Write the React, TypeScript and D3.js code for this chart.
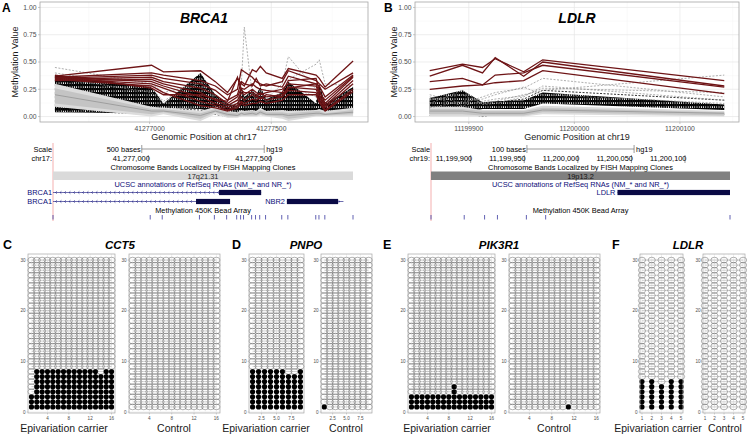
import React from "react";
import * as d3 from "d3";

const FONT = "'Liberation Sans', Arial, Helvetica, sans-serif";

// ---------------- Panel A: BRCA1 ----------------
const brcaPositions = [41276611, 41277008, 41277057, 41277209, 41277270, 41277320, 41277361, 41277377, 41277389, 41277422, 41277438, 41277455, 41277479, 41277545, 41277570, 41277684, 41277697, 41277721, 41277836];
const brcaCarriers = [
  [0.37, 0.47, 0.41, 0.42, 0.32, 0.22, 0.35, 0.30, 0.28, 0.43, 0.41, 0.46, 0.40, 0.35, 0.44, 0.38, 0.35, 0.27, 0.51],
  [0.36, 0.40, 0.38, 0.33, 0.28, 0.20, 0.25, 0.43, 0.41, 0.36, 0.32, 0.30, 0.28, 0.32, 0.42, 0.33, 0.30, 0.25, 0.40],
  [0.35, 0.38, 0.35, 0.30, 0.24, 0.15, 0.20, 0.32, 0.30, 0.28, 0.35, 0.28, 0.30, 0.27, 0.37, 0.30, 0.28, 0.18, 0.38],
  [0.34, 0.36, 0.32, 0.26, 0.20, 0.12, 0.18, 0.26, 0.25, 0.30, 0.27, 0.25, 0.24, 0.22, 0.33, 0.35, 0.24, 0.12, 0.36],
  [0.33, 0.34, 0.30, 0.22, 0.15, 0.10, 0.15, 0.22, 0.20, 0.25, 0.22, 0.20, 0.22, 0.25, 0.30, 0.28, 0.20, 0.10, 0.33],
  [0.36, 0.32, 0.28, 0.18, 0.12, 0.08, 0.12, 0.18, 0.15, 0.20, 0.18, 0.22, 0.18, 0.20, 0.27, 0.25, 0.18, 0.08, 0.30],
  [0.35, 0.30, 0.26, 0.14, 0.10, 0.06, 0.10, 0.14, 0.12, 0.16, 0.15, 0.18, 0.15, 0.18, 0.24, 0.22, 0.15, 0.06, 0.25],
  [0.34, 0.28, 0.22, 0.10, 0.08, 0.05, 0.08, 0.12, 0.10, 0.12, 0.12, 0.14, 0.12, 0.15, 0.20, 0.20, 0.13, 0.05, 0.23],
  [0.38, 0.26, 0.20, 0.20, 0.16, 0.14, 0.36, 0.24, 0.22, 0.22, 0.20, 0.16, 0.20, 0.18, 0.26, 0.30, 0.22, 0.15, 0.37],
];
const brcaBlackHi = [0.38, 0.27, 0.12, 0.40, 0.20, 0.12, 0.10, 0.28, 0.18, 0.24, 0.20, 0.27, 0.16, 0.22, 0.32, 0.12, 0.30, 0.12, 0.27];
const brcaBlackLo = [0.04, 0.03, 0.08, 0.07, 0.04, 0.02, 0.02, 0.03, 0.04, 0.03, 0.03, 0.04, 0.03, 0.03, 0.05, 0.04, 0.03, 0.04, 0.05];
const brcaOuterLo = [0.09, 0.00, 0.02, -0.04, 0.02, -0.01, -0.01, 0.00, 0.00, 0.00, 0.00, 0.01, 0.00, -0.02, -0.04, 0.00, 0.00, 0.00, 0.00];
const brcaOuterHi = [0.30, 0.09, 0.08, 0.05, 0.09, 0.05, 0.04, 0.06, 0.05, 0.06, 0.05, 0.08, 0.05, 0.06, 0.05, 0.06, 0.07, 0.05, 0.08];
const brcaInnerLo = [0.12, 0.02, 0.04, -0.02, 0.04, 0.00, 0.00, 0.01, 0.01, 0.01, 0.01, 0.02, 0.01, 0.00, -0.02, 0.01, 0.01, 0.01, 0.02];
const brcaInnerHi = [0.26, 0.07, 0.07, 0.03, 0.07, 0.04, 0.03, 0.04, 0.04, 0.05, 0.04, 0.06, 0.04, 0.04, 0.03, 0.05, 0.05, 0.03, 0.06];
const brcaMedian = [0.20, 0.05, 0.05, 0.01, 0.05, 0.02, 0.01, 0.03, 0.02, 0.03, 0.02, 0.04, 0.02, 0.02, 0.01, 0.03, 0.03, 0.02, 0.04];
const brcaGreyOutliers = [
  [0.45, 0.30, 0.22, 0.30, 0.15, 0.10, 0.12, 0.30, 0.82, 0.20, 0.16, 0.18, 0.14, 0.18, 0.28, 0.18, 0.16, 0.10, 0.22],
  [0.40, 0.26, 0.14, 0.36, 0.18, 0.10, 0.10, 0.22, 0.16, 0.22, 0.18, 0.24, 0.16, 0.30, 0.55, 0.25, 0.20, 0.12, 0.25],
  [0.36, 0.22, 0.12, 0.32, 0.16, 0.08, 0.08, 0.18, 0.14, 0.20, 0.16, 0.22, 0.14, 0.22, 0.34, 0.48, 0.52, 0.30, 0.28],
];
const brcaBlackDashed = [
  [0.06, 0.02, 0.07, 0.06, 0.02, 0.00, 0.00, 0.01, 0.02, 0.01, 0.01, 0.02, 0.01, 0.01, 0.04, 0.02, 0.01, 0.03, 0.04],
  [0.33, 0.22, 0.11, 0.38, 0.18, 0.11, 0.09, 0.26, 0.17, 0.23, 0.19, 0.26, 0.15, 0.21, 0.30, 0.11, 0.28, 0.11, 0.26],
];
const brcaXTicks = [41277000, 41277500];
const brcaXMinor = [41276750, 41277250, 41277750];

// ---------------- Panel B: LDLR ----------------
const ldlrPositions = [11199863, 11199894, 11199913, 11199925, 11199952, 11199970, 11200142];
const ldlrCarriers = [
  [0.42, 0.48, 0.45, 0.53, 0.41, 0.52, 0.33],
  [0.37, 0.47, 0.40, 0.54, 0.37, 0.50, 0.28],
  [0.32, 0.35, 0.29, 0.38, 0.40, 0.47, 0.27],
  [0.25, 0.28, 0.29, 0.31, 0.33, 0.42, 0.21],
];
const ldlrBlackHi = [0.17, 0.24, 0.13, 0.14, 0.15, 0.22, 0.11];
const ldlrBlackLo = [0.02, 0.03, 0.07, 0.07, 0.07, 0.12, 0.06];
const ldlrOuterLo = [0.00, 0.00, 0.00, 0.00, 0.00, 0.02, 0.00];
const ldlrOuterHi = [0.09, 0.09, 0.06, 0.06, 0.06, 0.10, 0.05];
const ldlrInnerLo = [0.02, 0.02, 0.01, 0.01, 0.01, 0.04, 0.01];
const ldlrInnerHi = [0.07, 0.07, 0.05, 0.05, 0.05, 0.08, 0.04];
const ldlrMedian = [0.05, 0.05, 0.03, 0.03, 0.03, 0.06, 0.03];
const ldlrGreyOutliers = [
  [0.20, 0.12, 0.18, 0.22, 0.26, 0.35, 0.18],
  [0.15, 0.20, 0.12, 0.14, 0.20, 0.24, 0.38],
  [0.12, 0.24, 0.11, 0.12, 0.18, 0.28, 0.15],
  [0.08, 0.14, 0.16, 0.20, 0.27, 0.20, 0.12],
  [0.18, 0.10, 0.14, 0.16, 0.19, 0.26, 0.22],
];
const ldlrBlackDashed = [
  [0.14, 0.20, 0.12, 0.13, 0.16, 0.24, 0.15],
  [0.01, 0.04, 0.00, 0.02, 0.01, 0.04, 0.02],
];
const ldlrXTicks = [11199900, 11200000, 11200100];
const ldlrXMinor = [11199850, 11199950, 11200050, 11200150];

const methYTicks = [0, 0.25, 0.5, 0.75, 1];
const methYMinor = [0.125, 0.375, 0.625, 0.875];

// ---------------- UCSC tracks ----------------
const brcaWindow = [41276611, 41277836];
const brcaRuler = [41277000, 41277500];
const brcaGenes = [
  { name: "BRCA1", row: 0, start: 41276400, end: 41277461, thickStart: 41277289, thickEnd: 41277461, strand: "-", labelAtEdge: true },
  { name: "BRCA1", row: 1, start: 41276400, end: 41277334, thickStart: 41277195, thickEnd: 41277334, strand: "-", labelAtEdge: true },
  { name: "NBR2", row: 1, start: 41277566, end: 41277797, thickStart: 41277566, thickEnd: 41277775, strand: "+", labelAtEdge: false },
];
const ldlrWindow = [11199863, 11200142];
const ldlrRuler = [11199900, 11199950, 11200000, 11200050, 11200100];
const ldlrGenes = [
  { name: "LDLR", row: 0, start: 11200037, end: 11200300, thickStart: 11200037, thickEnd: 11200300, strand: "+", labelAtEdge: false },
];

// ---------------- Lollipop panels ----------------
const nReads = 30;
const cct5Carrier = [3, 8, 8, 8, 8, 8, 8, 8, 8, 8, 8, 8, 8, 7, 8, 8];
const cct5Control = [0, 0, 0, 0, 0, 0, 0, 0, 0, 0, 0, 0, 0, 0, 0, 0];
const pnpoCarrier = [8, 8, 8, 8, 8, 8, 7, 7, 8];
const pnpoControl = [1, 0, 0, 0, 0, 0, 0, 0, 0];
const pik3r1Carrier = [3, 3, 3, 3, 3, 3, 3, 3, 5, 3, 3, 3, 3, 3, 3, 3];
const pik3r1Control = [0, 0, 0, 0, 0, 0, 0, 0, 0, 0, 1, 0, 0, 0, 0, 0];
const ldlrLolCarrier = [6, 6, 5, 6, 6];
const ldlrLolControl = [0, 0, 0, 0, 0];
const ticks16 = [4, 8, 12, 16];
const ticks9 = [2.5, 5.0, 7.5];
const ticks5 = [1, 2, 3, 4, 5];
const yTicksLol = [0, 10, 20, 30];

const RED = "#6e1416";

type MethProps = {
  left: number; right: number; top: number; bottom: number;
  positions: number[]; carriers: number[][];
  blackHi: number[]; blackLo: number[];
  outerLo: number[]; outerHi: number[]; innerLo: number[]; innerHi: number[]; median: number[];
  greyOut: number[][]; blackDash: number[][];
  xTicks: number[]; xMinor: number[];
  title: string; xTitle: string; letter: string; letterX: number; yTitleX: number; id: string;
};

function MethPanel(p: MethProps) {
  const ext = d3.extent(p.positions) as [number, number];
  const r = ext[1] - ext[0];
  const x = d3.scaleLinear().domain([ext[0] - 0.05 * r, ext[1] + 0.05 * r]).range([p.left, p.right]);
  const y = d3.scaleLinear().domain([-0.05, 1.05]).range([p.bottom, p.top]);
  const line = d3.line<number>().x((_, i) => x(p.positions[i])).y((d) => y(d));
  const band = (lo: number[], hi: number[]) =>
    d3.area<number>().x((_, i) => x(p.positions[i])).y0((_, i) => y(lo[i])).y1((d) => y(d))(hi) as string;
  const cx = (p.left + p.right) / 2;
  const cy = (p.top + p.bottom) / 2;
  return (
    <g>
      <defs>
        <clipPath id={"clip" + p.id}>
          <rect x={p.left} y={p.top} width={p.right - p.left} height={p.bottom - p.top} />
        </clipPath>
        <pattern id={"stripe" + p.id} width={2.2} height={4} patternUnits="userSpaceOnUse">
          <rect x={0} y={0} width={1.4} height={4} fill="#000" />
          <rect x={1.4} y={0} width={0.8} height={2.2} fill="#000" />
        </pattern>
      </defs>
      <rect x={p.left} y={p.top} width={p.right - p.left} height={p.bottom - p.top} fill="#fff" />
      {methYMinor.map((v) => (
        <line key={"ym" + v} x1={p.left} x2={p.right} y1={y(v)} y2={y(v)} stroke="#f2f2f2" strokeWidth={0.4} />
      ))}
      {p.xMinor.map((v) => (
        <line key={"xm" + v} x1={x(v)} x2={x(v)} y1={p.top} y2={p.bottom} stroke="#f2f2f2" strokeWidth={0.4} />
      ))}
      {methYTicks.map((v) => (
        <line key={"yg" + v} x1={p.left} x2={p.right} y1={y(v)} y2={y(v)} stroke="#e6e6e6" strokeWidth={0.7} />
      ))}
      {p.xTicks.map((v) => (
        <line key={"xg" + v} x1={x(v)} x2={x(v)} y1={p.top} y2={p.bottom} stroke="#e6e6e6" strokeWidth={0.7} />
      ))}
      <g clipPath={`url(#clip${p.id})`}>
        <path d={band(p.blackLo, p.blackHi)} fill={`url(#stripe${p.id})`} />
        {p.blackDash.map((s, i) => (
          <path key={"bd" + i} d={line(s) as string} fill="none" stroke="#000" strokeWidth={0.8} strokeDasharray="2,1.5" />
        ))}
        <path d={band(p.outerLo, p.outerHi)} fill="#dcdcdc" />
        <path d={band(p.innerLo, p.innerHi)} fill="#c4c4c4" />
        <path d={line(p.median) as string} fill="none" stroke="#9a9a9a" strokeWidth={0.9} />
        {p.greyOut.map((s, i) => (
          <path key={"go" + i} d={line(s) as string} fill="none" stroke="#8c8c8c" strokeWidth={0.7} strokeDasharray="2,1.5" />
        ))}
        {p.carriers.map((s, i) => (
          <path key={"c" + i} d={line(s) as string} fill="none" stroke={RED} strokeWidth={1.3} />
        ))}
      </g>
      <rect x={p.left} y={p.top} width={p.right - p.left} height={p.bottom - p.top} fill="none" stroke="#a6a6a6" strokeWidth={0.8} />
      {methYTicks.map((v) => (
        <g key={"yt" + v}>
          <line x1={p.left - 2} x2={p.left} y1={y(v)} y2={y(v)} stroke="#a6a6a6" strokeWidth={0.6} />
          <text x={p.left - 3.5} y={y(v) + 2.4} fontSize={6.8} textAnchor="end" fill="#4d4d4d">{d3.format(".2f")(v)}</text>
        </g>
      ))}
      {p.xTicks.map((v) => (
        <g key={"xt" + v}>
          <line x1={x(v)} x2={x(v)} y1={p.bottom} y2={p.bottom + 2} stroke="#a6a6a6" strokeWidth={0.6} />
          <text x={x(v)} y={p.bottom + 8.5} fontSize={6.8} textAnchor="middle" fill="#4d4d4d">{v}</text>
        </g>
      ))}
      <text x={cx} y={p.bottom + 18} fontSize={9} textAnchor="middle" fill="#1a1a1a">{p.xTitle}</text>
      <text transform={`translate(${p.yTitleX},${cy}) rotate(-90)`} fontSize={9} textAnchor="middle" fill="#1a1a1a">Methylation Value</text>
      <text x={cx} y={p.top + 21} fontSize={14} fontWeight="bold" fontStyle="italic" textAnchor="middle">{p.title}</text>
      <text x={p.letterX} y={12} fontSize={12} fontWeight="bold">{p.letter}</text>
    </g>
  );
}

type Gene = { name: string; row: number; start: number; end: number; thickStart: number; thickEnd: number; strand: string; labelAtEdge: boolean };

type UcscProps = {
  left: number; right: number; window: number[]; ruler: number[]; positions: number[];
  genes: Gene[]; scaleBases: number; chrom: string; band: string; bandFill: string; bandText: string;
};

function UcscTracks(p: UcscProps) {
  const x = d3.scaleLinear().domain(p.window).range([p.left, p.right]);
  const cx = (p.left + p.right) / 2;
  const barHalf = (x(p.window[0] + p.scaleBases) - x(p.window[0])) / 2;
  const fs = 7.4;
  const rowY = [192.5, 201.5];
  const blue = "#0c0c78";
  return (
    <g fontSize={fs}>
      <line x1={p.left} x2={p.left} y1={143} y2={221} stroke="#f3a6a6" strokeWidth={0.9} />
      <text x={p.left - 1} y={152} textAnchor="end">Scale</text>
      <text x={p.left - 1} y={161} textAnchor="end">{p.chrom}:</text>
      <text x={cx - barHalf - 1} y={152} textAnchor="end">{p.scaleBases} bases</text>
      <line x1={cx - barHalf} x2={cx + barHalf} y1={149} y2={149} stroke="#555" strokeWidth={0.6} />
      <line x1={cx - barHalf} x2={cx - barHalf} y1={145} y2={153} stroke="#555" strokeWidth={0.6} />
      <line x1={cx + barHalf} x2={cx + barHalf} y1={145} y2={153} stroke="#555" strokeWidth={0.6} />
      <text x={cx + barHalf + 2} y={152}>hg19</text>
      {p.ruler.map((v) => (
        <g key={v}>
          <line x1={x(v)} x2={x(v)} y1={155} y2={163} stroke="#555" strokeWidth={0.6} />
          <text x={x(v) + 1.5} y={161} textAnchor="end">{d3.format(",")(v)}</text>
        </g>
      ))}
      <text x={cx} y={170} textAnchor="middle">Chromosome Bands Localized by FISH Mapping Clones</text>
      <rect x={p.left} y={171.5} width={p.right - p.left} height={8.5} fill={p.bandFill} />
      <text x={cx} y={178.5} textAnchor="middle" fill={p.bandText}>{p.band}</text>
      <text x={cx} y={187} textAnchor="middle" fill={blue}>UCSC annotations of RefSeq RNAs (NM_* and NR_*)</text>
      {p.genes.map((g, i) => {
        const s = Math.max(x(g.start), p.left);
        const e = Math.min(x(g.end), p.right);
        const ts = Math.max(x(g.thickStart), p.left);
        const te = Math.min(x(g.thickEnd), p.right);
        const yy = rowY[g.row];
        const chevrons = d3.range(s + 3, e - 2, 4.5).filter((c) => c < ts - 1 || c > te + 1);
        const lx = g.labelAtEdge ? p.left - 1 : s - 2;
        return (
          <g key={i}>
            <line x1={s} x2={e} y1={yy} y2={yy} stroke={blue} strokeWidth={0.6} />
            {chevrons.map((c) => (
              <path key={c} d={g.strand === "-" ? `M${c + 1},${yy - 1.3}L${c - 0.5},${yy}L${c + 1},${yy + 1.3}` : `M${c - 1},${yy - 1.3}L${c + 0.5},${yy}L${c - 1},${yy + 1.3}`} fill="none" stroke={blue} strokeWidth={0.5} />
            ))}
            <rect x={ts} y={yy - 2.6} width={te - ts} height={5.2} fill="#0a0a45" />
            <text x={lx} y={yy + 2.6} textAnchor="end" fill={blue}>{g.name}</text>
          </g>
        );
      })}
      <text x={cx} y={213} textAnchor="middle">Methylation 450K Bead Array</text>
      {p.positions.map((v) => (
        <line key={v} x1={x(v)} x2={x(v)} y1={215} y2={219.5} stroke="#3a3aa0" strokeWidth={0.8} />
      ))}
    </g>
  );
}

type LolProps = {
  left: number; right: number; filled: number[]; xTicks: number[]; xDomain: number[]; label: string; labelX: number; id: string;
};
const LOL_TOP = 254;
const LOL_BOTTOM = 413;

function LolPanel(p: LolProps) {
  const x = d3.scaleLinear().domain(p.xDomain).range([p.left, p.right]);
  const y = d3.scaleLinear().domain([-0.2, 31.2]).range([LOL_BOTTOM, LOL_TOP]);
  const cols = p.filled.map((_, i) => i + 1);
  const rows = d3.range(1, nReads + 1);
  const minorY = [5, 15, 25];
  const minorX = p.xTicks.slice(0, -1).map((t, i) => (t + p.xTicks[i + 1]) / 2);
  return (
    <g>
      <rect x={p.left} y={LOL_TOP} width={p.right - p.left} height={LOL_BOTTOM - LOL_TOP} fill="#fff" />
      {minorY.map((v) => (
        <line key={"my" + v} x1={p.left} x2={p.right} y1={y(v)} y2={y(v)} stroke="#f2f2f2" strokeWidth={0.4} />
      ))}
      {minorX.map((v) => (
        <line key={"mx" + v} x1={x(v)} x2={x(v)} y1={LOL_TOP} y2={LOL_BOTTOM} stroke="#f2f2f2" strokeWidth={0.4} />
      ))}
      {yTicksLol.map((v) => (
        <line key={"gy" + v} x1={p.left} x2={p.right} y1={y(v)} y2={y(v)} stroke="#e8e8e8" strokeWidth={0.6} />
      ))}
      {p.xTicks.map((v) => (
        <line key={"gx" + v} x1={x(v)} x2={x(v)} y1={LOL_TOP} y2={LOL_BOTTOM} stroke="#e8e8e8" strokeWidth={0.6} />
      ))}
      {rows.map((r) => (
        <line key={"row" + r} x1={x(1)} x2={x(cols.length)} y1={y(r)} y2={y(r)} stroke="#8a8a8a" strokeWidth={0.4} />
      ))}
      {rows.map((r) =>
        cols.map((c) => {
          const f = r <= p.filled[c - 1];
          return f ? (
            <circle key={r + "-" + c} cx={x(c)} cy={y(r)} r={2.6} fill="#000" />
          ) : (
            <ellipse key={r + "-" + c} cx={x(c)} cy={y(r)} rx={3.6} ry={2.85} fill="none" stroke="#555" strokeWidth={0.45} />
          );
        })
      )}
      <rect x={p.left} y={LOL_TOP} width={p.right - p.left} height={LOL_BOTTOM - LOL_TOP} fill="none" stroke="#a6a6a6" strokeWidth={0.7} />
      {yTicksLol.map((v) => (
        <g key={"ty" + v}>
          <line x1={p.left - 1.5} x2={p.left} y1={y(v)} y2={y(v)} stroke="#a6a6a6" strokeWidth={0.5} />
          <text x={p.left - 2.5} y={y(v) + 1.6} fontSize={4.6} textAnchor="end" fill="#4d4d4d">{v}</text>
        </g>
      ))}
      {p.xTicks.map((v) => (
        <g key={"tx" + v}>
          <line x1={x(v)} x2={x(v)} y1={LOL_BOTTOM} y2={LOL_BOTTOM + 1.5} stroke="#a6a6a6" strokeWidth={0.5} />
          <text x={x(v)} y={LOL_BOTTOM + 6.5} fontSize={4.6} textAnchor="middle" fill="#4d4d4d">{p.xTicks === ticks9 ? d3.format(".1f")(v) : v}</text>
        </g>
      ))}
      <text x={p.labelX} y={432} fontSize={10.5} textAnchor="middle" fill="#1a1a1a">{p.label}</text>
    </g>
  );
}

function Title({ x, text }: { x: number; text: string }) {
  return <text x={x} y={249} fontSize={11.5} fontWeight="bold" fontStyle="italic" textAnchor="middle">{text}</text>;
}
function Letter({ x, text }: { x: number; text: string }) {
  return <text x={x} y={249} fontSize={12.5} fontWeight="bold">{text}</text>;
}

export default function App() {
  return (
    <svg width={747} height={435} style={{ position: "absolute", left: 0, top: 0, fontFamily: FONT, background: "#fff" }}>
      <rect x={0} y={0} width={747} height={435} fill="#fff" />
      <MethPanel id="A" left={40} right={368} top={2} bottom={122} positions={brcaPositions} carriers={brcaCarriers}
        blackHi={brcaBlackHi} blackLo={brcaBlackLo} outerLo={brcaOuterLo} outerHi={brcaOuterHi}
        innerLo={brcaInnerLo} innerHi={brcaInnerHi} median={brcaMedian} greyOut={brcaGreyOutliers} blackDash={brcaBlackDashed}
        xTicks={brcaXTicks} xMinor={brcaXMinor} title="BRCA1" xTitle="Genomic Position at chr17" letter="A" letterX={2} yTitleX={18} />
      <MethPanel id="B" left={415} right={739} top={2} bottom={122} positions={ldlrPositions} carriers={ldlrCarriers}
        blackHi={ldlrBlackHi} blackLo={ldlrBlackLo} outerLo={ldlrOuterLo} outerHi={ldlrOuterHi}
        innerLo={ldlrInnerLo} innerHi={ldlrInnerHi} median={ldlrMedian} greyOut={ldlrGreyOutliers} blackDash={ldlrBlackDashed}
        xTicks={ldlrXTicks} xMinor={ldlrXMinor} title="LDLR" xTitle="Genomic Position at chr19" letter="B" letterX={384} yTitleX={397} />
      <UcscTracks left={53} right={353} window={brcaWindow} ruler={brcaRuler} positions={brcaPositions} genes={brcaGenes}
        scaleBases={500} chrom="chr17" band="17q21.31" bandFill="#dadada" bandText="#222" />
      <UcscTracks left={431} right={730} window={ldlrWindow} ruler={ldlrRuler} positions={ldlrPositions} genes={ldlrGenes}
        scaleBases={100} chrom="chr19" band="19p13.2" bandFill="#808080" bandText="#111" />

      <Letter x={3} text="C" />
      <Title x={120} text="CCT5" />
      <LolPanel id="c1" left={28} right={115} filled={cct5Carrier} xTicks={ticks16} xDomain={[0.35, 16.65]} label="Epivariation carrier" labelX={64} />
      <LolPanel id="c2" left={129} right={220} filled={cct5Control} xTicks={ticks16} xDomain={[0.35, 16.65]} label="Control" labelX={174} />

      <Letter x={232} text="D" />
      <Title x={306} text="PNPO" />
      <LolPanel id="d1" left={249} right={304} filled={pnpoCarrier} xTicks={ticks9} xDomain={[0.4, 9.6]} label="Epivariation carrier" labelX={266} />
      <LolPanel id="d2" left={321} right={372} filled={pnpoControl} xTicks={ticks9} xDomain={[0.4, 9.6]} label="Control" labelX={346} />

      <Letter x={383} text="E" />
      <Title x={499} text="PIK3R1" />
      <LolPanel id="e1" left={408} right={495} filled={pik3r1Carrier} xTicks={ticks16} xDomain={[0.35, 16.65]} label="Epivariation carrier" labelX={447} />
      <LolPanel id="e2" left={509} right={600} filled={pik3r1Control} xTicks={ticks16} xDomain={[0.35, 16.65]} label="Control" labelX={554} />

      <Letter x={612} text="F" />
      <Title x={688} text="LDLR" />
      <LolPanel id="f1" left={640} right={683} filled={ldlrLolCarrier} xTicks={ticks5} xDomain={[0.8, 5.2]} label="Epivariation carrier" labelX={658} />
      <LolPanel id="f2" left={703} right={745} filled={ldlrLolControl} xTicks={ticks5} xDomain={[0.8, 5.2]} label="Control" labelX={725} />
    </svg>
  );
}
